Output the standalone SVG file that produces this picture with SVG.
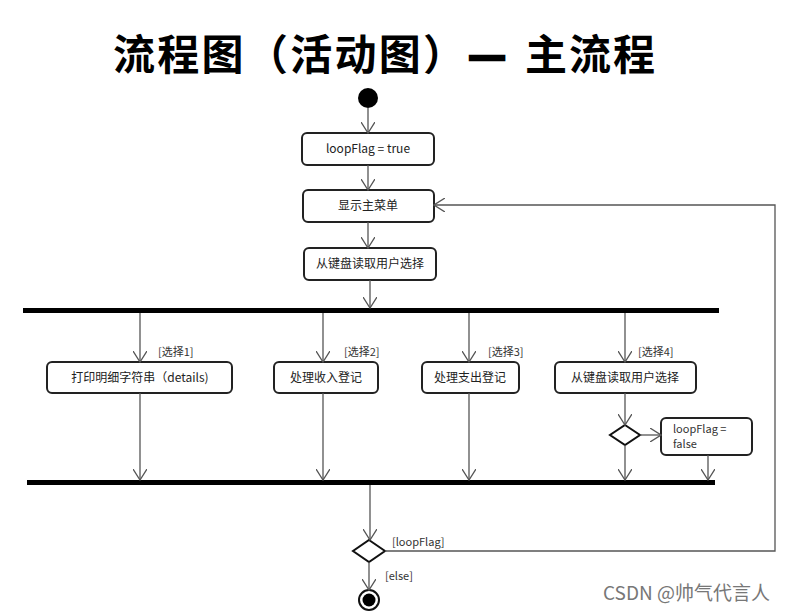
<svg xmlns="http://www.w3.org/2000/svg" width="790" height="611" viewBox="0 0 790 611">
<style>
.box{fill:#fff;stroke:#222;stroke-width:2}
.t{font-family:"Noto Sans CJK SC","Liberation Sans",sans-serif;font-size:12px;fill:#222;text-anchor:middle}
.lbl{font-family:"Noto Sans CJK SC","Liberation Sans",sans-serif;font-size:11px;fill:#333}
.ln{fill:none;stroke:#555;stroke-width:1.3}
.bar{fill:#000}
</style>
<defs>
<marker id="arr" viewBox="0 0 12 14" refX="11" refY="7" markerWidth="12" markerHeight="14" markerUnits="userSpaceOnUse" orient="auto">
<path d="M0,0 L11,7 L0,14" fill="none" stroke="#555" stroke-width="1.3"/>
</marker>
</defs>
<rect width="790" height="611" fill="#fff"/>
<text y="70" font-family="Noto Sans CJK SC,sans-serif" font-size="42" font-weight="bold" fill="#000"><tspan x="113" letter-spacing="2.3">流程图（活动图）</tspan><tspan x="468" stroke="#000" stroke-width="2.5">—</tspan><tspan x="525" letter-spacing="2">主流程</tspan></text>

<g id="start"><circle cx="368" cy="98" r="10" fill="#000"/></g>
<g id="n_loop_true"><rect class="box" x="302" y="133" width="132" height="32" rx="5"/><text class="t" x="368" y="153">loopFlag = true</text></g>
<g id="n_menu"><rect class="box" x="303" y="190" width="131" height="32" rx="5"/><text class="t" x="368" y="210">显示主菜单</text></g>
<g id="n_read"><rect class="box" x="304" y="248" width="132" height="32" rx="5"/><text class="t" x="370" y="268">从键盘读取用户选择</text></g>
<g id="fork"><rect class="bar" x="23" y="308" width="696" height="5"/></g>
<g id="n_print"><rect class="box" x="47" y="362" width="185" height="31" rx="5"/><text class="t" x="140" y="382">打印明细字符串（details)</text></g>
<g id="n_income"><rect class="box" x="274" y="362" width="104" height="31" rx="5"/><text class="t" x="326" y="382">处理收入登记</text></g>
<g id="n_expense"><rect class="box" x="422" y="362" width="97" height="31" rx="5"/><text class="t" x="470" y="382">处理支出登记</text></g>
<g id="n_read2"><rect class="box" x="555" y="362" width="141" height="31" rx="5"/><text class="t" x="625" y="382">从键盘读取用户选择</text></g>
<g id="d1"><polygon points="625,425 640,435 625,445 610,435" fill="#fff" stroke="#111" stroke-width="2"/></g>
<g id="n_loop_false"><rect class="box" x="661" y="418" width="91" height="37" rx="5"/><text class="lbl" x="673" y="433" font-size="12">loopFlag =</text><text class="lbl" x="673" y="448" font-size="12">false</text></g>
<g id="join"><rect class="bar" x="27" y="480" width="688" height="5"/></g>
<g id="d2"><polygon points="369,540 385,551 369,562 353,551" fill="#fff" stroke="#111" stroke-width="2"/></g>
<g id="end"><circle cx="369" cy="600" r="10" fill="#fff" stroke="#111" stroke-width="2"/><circle cx="369" cy="600" r="6.5" fill="#000"/></g>

<g id="connectors">
<line class="ln" x1="368" y1="108" x2="368" y2="133" marker-end="url(#arr)"/>
<line class="ln" x1="368" y1="165" x2="368" y2="190" marker-end="url(#arr)"/>
<line class="ln" x1="368" y1="222" x2="368" y2="248" marker-end="url(#arr)"/>
<line class="ln" x1="370" y1="280" x2="370" y2="308" marker-end="url(#arr)"/>
<line class="ln" x1="140" y1="313" x2="140" y2="362" marker-end="url(#arr)"/>
<line class="ln" x1="323" y1="313" x2="323" y2="362" marker-end="url(#arr)"/>
<line class="ln" x1="469" y1="313" x2="469" y2="362" marker-end="url(#arr)"/>
<line class="ln" x1="625" y1="313" x2="625" y2="362" marker-end="url(#arr)"/>
<line class="ln" x1="140" y1="393" x2="140" y2="480" marker-end="url(#arr)"/>
<line class="ln" x1="323" y1="393" x2="323" y2="480" marker-end="url(#arr)"/>
<line class="ln" x1="469" y1="393" x2="469" y2="480" marker-end="url(#arr)"/>
<line class="ln" x1="625" y1="393" x2="625" y2="425" marker-end="url(#arr)"/>
<line class="ln" x1="640" y1="435" x2="661" y2="435" marker-end="url(#arr)"/>
<line class="ln" x1="625" y1="445" x2="625" y2="480" marker-end="url(#arr)"/>
<line class="ln" x1="708" y1="455" x2="708" y2="480" marker-end="url(#arr)"/>
<line class="ln" x1="370" y1="485" x2="370" y2="540" marker-end="url(#arr)"/>
<polyline class="ln" points="385,551 775,551 775,205 434,205" marker-end="url(#arr)"/>
<line class="ln" x1="369" y1="562" x2="369" y2="590" marker-end="url(#arr)"/>
<text class="lbl" x="158" y="356">[选择1]</text>
<text class="lbl" x="344" y="356">[选择2]</text>
<text class="lbl" x="488" y="356">[选择3]</text>
<text class="lbl" x="638" y="356">[选择4]</text>
<text class="lbl" x="392" y="546">[loopFlag]</text>
<text class="lbl" x="385" y="580">[else]</text>
</g>
<text x="603" y="600" font-family="Noto Sans CJK SC,sans-serif" font-size="19" fill="#777">CSDN @帅气代言人</text>
</svg>
